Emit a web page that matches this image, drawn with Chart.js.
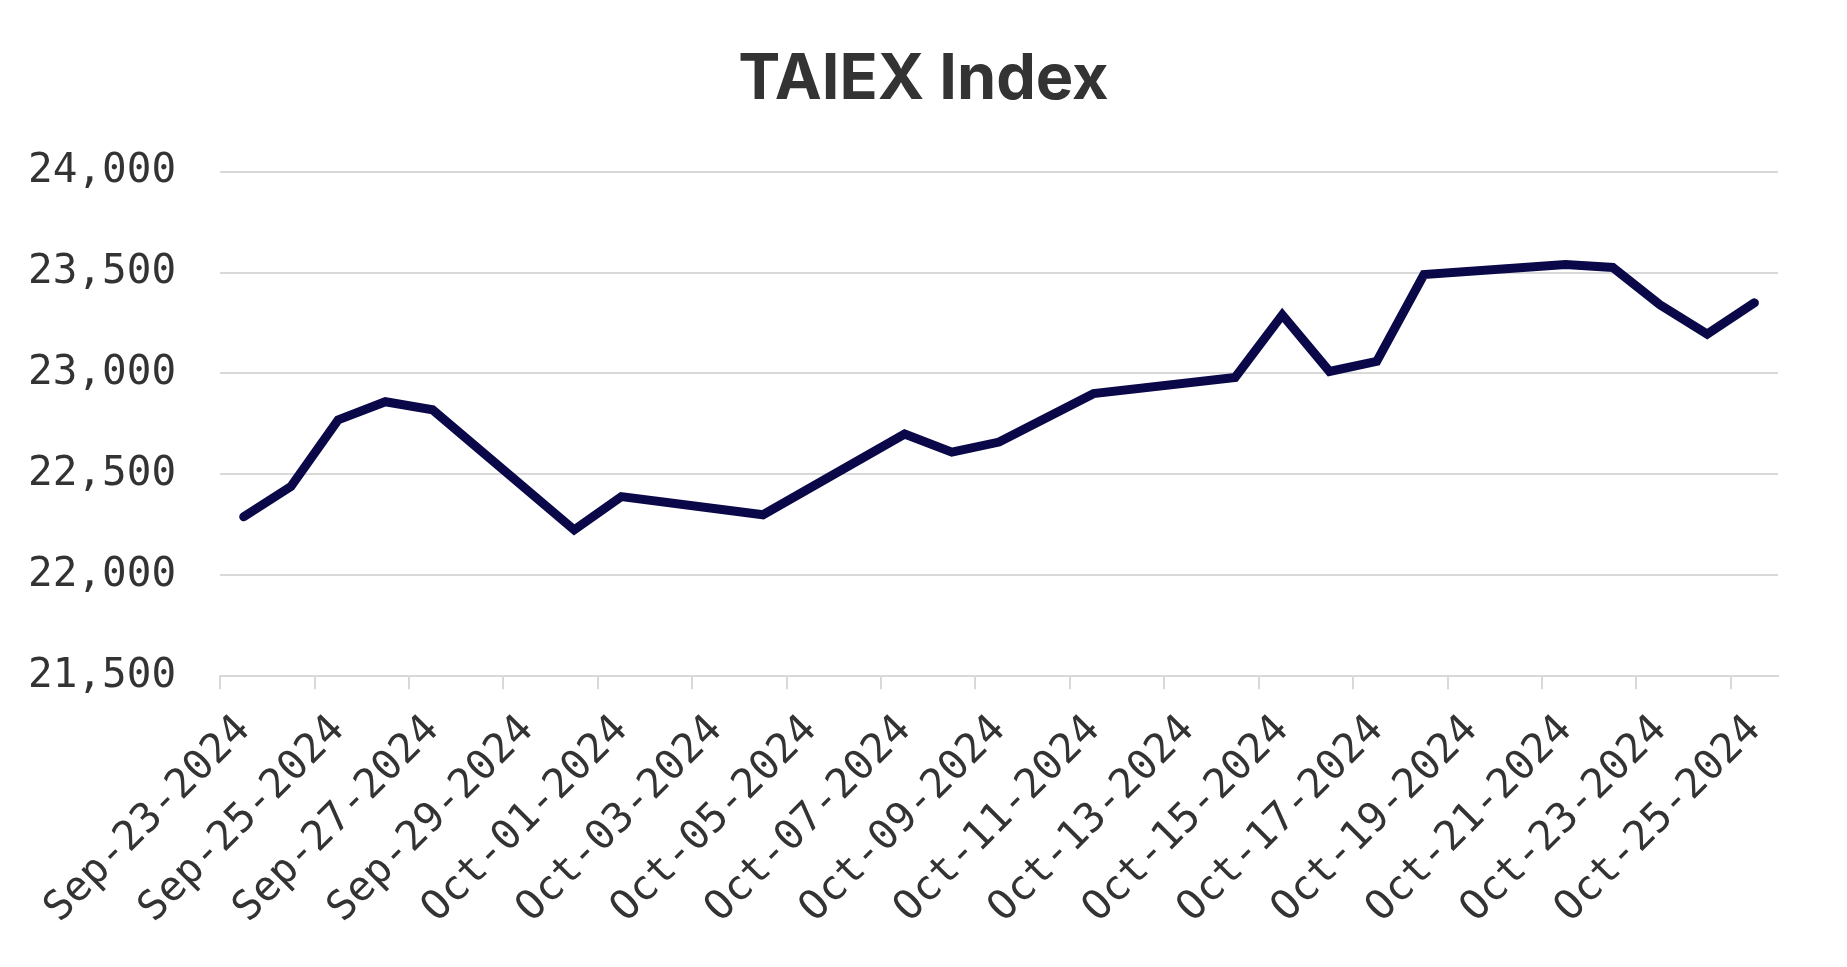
<!DOCTYPE html>
<html>
<head>
<meta charset="utf-8">
<title>TAIEX Index</title>
<script src="https://cdn.jsdelivr.net/npm/chart.js@4/dist/chart.umd.min.js"></script>
<style>
  html, body { margin: 0; padding: 0; background: #ffffff; }
  #wrap { width: 1847px; height: 967px; }
</style>
</head>
<body>
<div id="wrap"><canvas id="grafico" width="1847" height="967"></canvas></div>
<script>
// trading days (weekends and market closures are simply absent)
const fechas = [
  "2024-09-23", "2024-09-24", "2024-09-25", "2024-09-26", "2024-09-27",
  "2024-09-30", "2024-10-01", "2024-10-04",
  "2024-10-07", "2024-10-08", "2024-10-09", "2024-10-11",
  "2024-10-14", "2024-10-15", "2024-10-16", "2024-10-17", "2024-10-18",
  "2024-10-21", "2024-10-22", "2024-10-23", "2024-10-24", "2024-10-25",
];
const cierres = [
  22290, 22440, 22770, 22860, 22820,
  22225, 22390, 22300,
  22700, 22610, 22660, 22900,
  22980, 23290, 23010, 23060, 23490,
  23540, 23525, 23340, 23195, 23350,
];

const inicioEje = "2024-09-23";
const finEje = "2024-10-26";
const pasoDias = 2;
const yTicks = [21500, 22000, 22500, 23000, 23500, 24000];

const meses = ["Jan", "Feb", "Mar", "Apr", "May", "Jun", "Jul", "Aug", "Sep", "Oct", "Nov", "Dec"];
const DIA_MS = 86400000;
const HORA_SESION = 12; // each close is placed at midday of its date

function aDias(fecha) {
  const [a, m, d] = fecha.split("-").map(Number);
  const [a0, m0, d0] = inicioEje.split("-").map(Number);
  return (Date.UTC(a, m - 1, d) - Date.UTC(a0, m0 - 1, d0)) / DIA_MS;
}

function etiquetaDia(dias) {
  const [a0, m0, d0] = inicioEje.split("-").map(Number);
  const f = new Date(Date.UTC(a0, m0 - 1, d0) + dias * DIA_MS);
  const dd = String(f.getUTCDate()).padStart(2, "0");
  return `${meses[f.getUTCMonth()]}-${dd}-${f.getUTCFullYear()}`;
}

const puntos = fechas.map((f, i) => ({ x: aDias(f) + HORA_SESION / 24, y: cierres[i] }));

const colorGrid = "#d9d9d9";
const colorTexto = "#333333";
const fuenteMono = "'DejaVu Sans Mono', 'Liberation Mono', monospace";

// title centred on the whole canvas, not on the padded layout box
const pluginTituloCentrado = {
  id: "pluginTituloCentrado",
  afterLayout(chart) {
    const t = chart.titleBlock;
    if (!t) return;
    t.left = 0;
    t.right = chart.width;
    t.width = chart.width;
  },
};

new Chart(document.getElementById("grafico").getContext("2d"), {
  type: "line",
  data: {
    datasets: [
      {
        label: "TAIEX",
        data: puntos,
        borderColor: "#0a0848",
        borderWidth: 9,
        borderCapStyle: "round",
        borderJoinStyle: "miter",
        pointRadius: 0,
        tension: 0,
        fill: false,
      },
    ],
  },
  options: {
    responsive: false,
    animation: false,
    // the rotated first x label reserves room on the left; pull it back in
    layout: { padding: { left: -16, right: 69, top: 0, bottom: 17 } },
    plugins: {
      legend: { display: false },
      tooltip: { enabled: false },
      title: {
        display: true,
        text: "TAIEX Index",
        color: colorTexto,
        font: { family: "Inter, 'Liberation Sans', sans-serif", size: 63, weight: "bold" },
        padding: { top: 42, bottom: 54 },
      },
    },
    scales: {
      x: {
        type: "linear",
        min: aDias(inicioEje),
        max: aDias(finEje),
        grid: {
          drawOnChartArea: false,
          drawTicks: true,
          tickLength: 13,
          color: colorGrid,
          lineWidth: 2,
        },
        border: { display: true, color: colorGrid, width: 2 },
        ticks: {
          stepSize: pasoDias,
          includeBounds: false,
          autoSkip: false,
          maxRotation: 45,
          minRotation: 45,
          padding: 17,
          labelOffset: 24,
          color: colorTexto,
          font: { family: fuenteMono, size: 41 },
          callback: (v) => etiquetaDia(v),
        },
      },
      y: {
        min: yTicks[0],
        max: yTicks[yTicks.length - 1],
        afterBuildTicks: (eje) => {
          eje.ticks = yTicks.map((v) => ({ value: v }));
        },
        grid: { drawTicks: false, color: colorGrid, lineWidth: 2 },
        border: { display: false },
        ticks: {
          padding: 44,
          color: colorTexto,
          font: { family: fuenteMono, size: 41 },
          callback: (v) => Number(v).toLocaleString("en-US"),
        },
      },
    },
  },
  plugins: [pluginTituloCentrado],
});
</script>
</body>
</html>
